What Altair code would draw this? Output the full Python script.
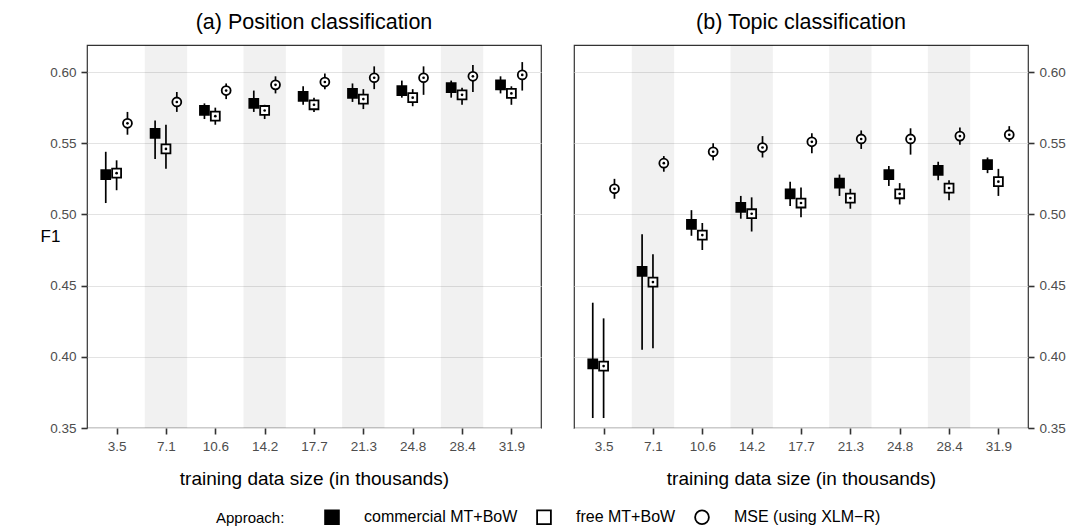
import altair as alt
import pandas as pd

FONT = "Liberation Sans"

SIZES = ["3.5", "7.1", "10.6", "14.2", "17.7", "21.3", "24.8", "28.4", "31.9"]
APPROACHES = ["commercial MT+BoW", "free MT+BoW", "MSE (using XLM\u2212R)"]

# (a) Position classification
POS_COM_MEAN = [0.528, 0.557, 0.573, 0.578, 0.583, 0.585, 0.587, 0.589, 0.591]
POS_COM_LO = [0.508, 0.539, 0.567, 0.572, 0.577, 0.579, 0.582, 0.582, 0.585]
POS_COM_HI = [0.544, 0.566, 0.578, 0.587, 0.590, 0.592, 0.594, 0.594, 0.597]
POS_FREE_MEAN = [0.529, 0.546, 0.569, 0.573, 0.577, 0.581, 0.582, 0.584, 0.585]
POS_FREE_LO = [0.517, 0.532, 0.563, 0.567, 0.572, 0.574, 0.576, 0.577, 0.577]
POS_FREE_HI = [0.538, 0.563, 0.575, 0.577, 0.582, 0.588, 0.588, 0.589, 0.590]
POS_MSE_MEAN = [0.564, 0.579, 0.587, 0.591, 0.593, 0.596, 0.596, 0.597, 0.598]
POS_MSE_LO = [0.556, 0.572, 0.581, 0.585, 0.588, 0.588, 0.584, 0.586, 0.587]
POS_MSE_HI = [0.572, 0.586, 0.592, 0.597, 0.599, 0.604, 0.604, 0.605, 0.607]

# (b) Topic classification
TOP_COM_MEAN = [0.395, 0.460, 0.493, 0.505, 0.5145, 0.522, 0.528, 0.531, 0.535]
TOP_COM_LO = [0.357, 0.405, 0.485, 0.497, 0.506, 0.513, 0.520, 0.524, 0.529]
TOP_COM_HI = [0.438, 0.486, 0.503, 0.513, 0.523, 0.528, 0.534, 0.537, 0.540]
TOP_FREE_MEAN = [0.3935, 0.4525, 0.4855, 0.5005, 0.508, 0.5115, 0.5145, 0.5185, 0.523]
TOP_FREE_LO = [0.357, 0.406, 0.475, 0.488, 0.498, 0.504, 0.507, 0.510, 0.513]
TOP_FREE_HI = [0.427, 0.472, 0.494, 0.512, 0.519, 0.518, 0.522, 0.524, 0.532]
TOP_MSE_MEAN = [0.518, 0.536, 0.544, 0.547, 0.551, 0.553, 0.553, 0.555, 0.556]
TOP_MSE_LO = [0.511, 0.530, 0.538, 0.540, 0.543, 0.546, 0.542, 0.549, 0.551]
TOP_MSE_HI = [0.525, 0.541, 0.550, 0.555, 0.557, 0.559, 0.5605, 0.561, 0.562]

Y_MAJOR = [0.35, 0.40, 0.45, 0.50, 0.55, 0.60]
Y_MINOR = [0.375, 0.425, 0.475, 0.525, 0.575]

DODGE = {APPROACHES[0]: -0.22, APPROACHES[1]: 0.0, APPROACHES[2]: 0.22}
BAND_HALF = 0.43
W, H = 454, 383


def build(series):
    rows = []
    for name, (mean, lo, hi) in zip(APPROACHES, series):
        for i, s in enumerate(SIZES):
            rows.append({"size": s, "idx": i + 1, "approach": name,
                         "x": i + 1 + DODGE[name],
                         "mean": mean[i], "lo": lo[i], "hi": hi[i]})
    return pd.DataFrame(rows)


pos_df = build([(POS_COM_MEAN, POS_COM_LO, POS_COM_HI),
                (POS_FREE_MEAN, POS_FREE_LO, POS_FREE_HI),
                (POS_MSE_MEAN, POS_MSE_LO, POS_MSE_HI)])
top_df = build([(TOP_COM_MEAN, TOP_COM_LO, TOP_COM_HI),
                (TOP_FREE_MEAN, TOP_FREE_LO, TOP_FREE_HI),
                (TOP_MSE_MEAN, TOP_MSE_LO, TOP_MSE_HI)])

band_df = pd.DataFrame([{"x0": i + 1 - BAND_HALF, "x1": i + 1 + BAND_HALF}
                        for i in range(len(SIZES)) if i % 2 == 1])

label_expr = "[" + ",".join(f"'{s}'" for s in SIZES) + "][datum.value - 1]"
minor_test = "round(datum.value * 1000) % 50 != 0"

legend = alt.Legend(
    orient="none", direction="horizontal", legendX=129, legendY=464,
    title="Approach:", titleOrient="left", titleFont=FONT, titleFontSize=15,
    titleFontWeight="normal", titleColor="black", titlePadding=39,
    labelFont=FONT, labelFontSize=16, labelColor="black", labelOffset=24,
    symbolSize=190, symbolStrokeWidth=1.8, symbolStrokeColor="black",
    columnPadding=15,
)


def panel(df, title, orient):
    xs = alt.Scale(domain=[0.4, 9.6], nice=False, zero=False)
    ys = alt.Scale(domain=[0.35, 0.619], nice=False, zero=False)
    xaxis = alt.Axis(values=list(range(1, len(SIZES) + 1)), labelExpr=label_expr,
                     title="training data size (in thousands)", grid=False,
                     domain=False, tickSize=6, tickWidth=1.6, tickColor="#333333",
                     labelPadding=5, labelFontSize=13.5, labelColor="#4D4D4D",
                     titleFontSize=19, titlePadding=17, titleFontWeight="normal",
                     titleColor="black")
    ykw = dict(orient=orient, values=sorted(Y_MAJOR + Y_MINOR),
               labelExpr=f"{minor_test} ? '' : format(datum.value, '.2f')",
               domain=False, tickSize=6, tickWidth=1.6, tickColor="#333333",
               tickOpacity={"condition": {"test": minor_test, "value": 0}, "value": 1},
               gridColor={"condition": {"test": minor_test, "value": "#F4F4F4"}, "value": "#E3E3E3"},
               gridWidth={"condition": {"test": minor_test, "value": 0.7}, "value": 1.1},
               labelPadding=5, labelFontSize=13.5, labelColor="#4D4D4D")
    if orient == "left":
        yaxis = alt.Axis(title="F1", titleAngle=0, titleX=-37, titleY=H / 2,
                         titleAlign="center", titleBaseline="middle",
                         titleFontSize=17, titleFontWeight="normal",
                         titleColor="black", **ykw)
    else:
        yaxis = alt.Axis(title=None, **ykw)

    bands = alt.Chart(band_df).mark_rect(color="black", opacity=0.055).encode(
        x=alt.X("x0:Q", scale=xs, axis=xaxis),
        x2="x1:Q",
        y=alt.value(0), y2=alt.value(H),
    )
    rules = alt.Chart(df).mark_rule(color="black", strokeWidth=1.7).encode(
        x=alt.X("x:Q", scale=xs),
        y=alt.Y("lo:Q", scale=ys, axis=yaxis),
        y2="hi:Q",
    )
    pts = alt.Chart(df).mark_point(filled=True, strokeWidth=1.8,
                                   size=80, opacity=1).encode(
        x=alt.X("x:Q", scale=xs),
        y=alt.Y("mean:Q", scale=ys),
        shape=alt.Shape("approach:N", scale=alt.Scale(domain=APPROACHES,
                        range=["square", "square", "circle"]), legend=legend),
        fill=alt.Fill("approach:N", scale=alt.Scale(domain=APPROACHES,
                      range=["black", "white", "white"]), legend=legend),
        stroke=alt.Stroke("approach:N", scale=alt.Scale(domain=APPROACHES,
                          range=["black", "black", "black"]), legend=legend),
    )
    dots = alt.Chart(df).transform_filter(
        alt.datum.approach != APPROACHES[0]
    ).mark_circle(color="black", size=7, opacity=1).encode(
        x=alt.X("x:Q", scale=xs),
        y=alt.Y("mean:Q", scale=ys),
    )
    return alt.layer(bands, rules, pts, dots).properties(
        width=W, height=H,
        title=alt.TitleParams(title, fontSize=21.5, font=FONT, fontWeight="normal",
                              anchor="middle", offset=12, color="black"),
    )


chart = alt.hconcat(
    panel(pos_df, "(a) Position classification", "left"),
    panel(top_df, "(b) Topic classification", "right"),
    spacing=31,
).resolve_scale(shape="shared", fill="shared", stroke="shared").configure_view(
    stroke="#333333", strokeWidth=1.2
).configure_axis(
    labelFont=FONT, titleFont=FONT
).properties(
    padding={"left": 31, "top": 2, "right": 5, "bottom": 0},
    background="white",
)

chart.save("out.html", embed_options={"renderer": "svg", "actions": False})
